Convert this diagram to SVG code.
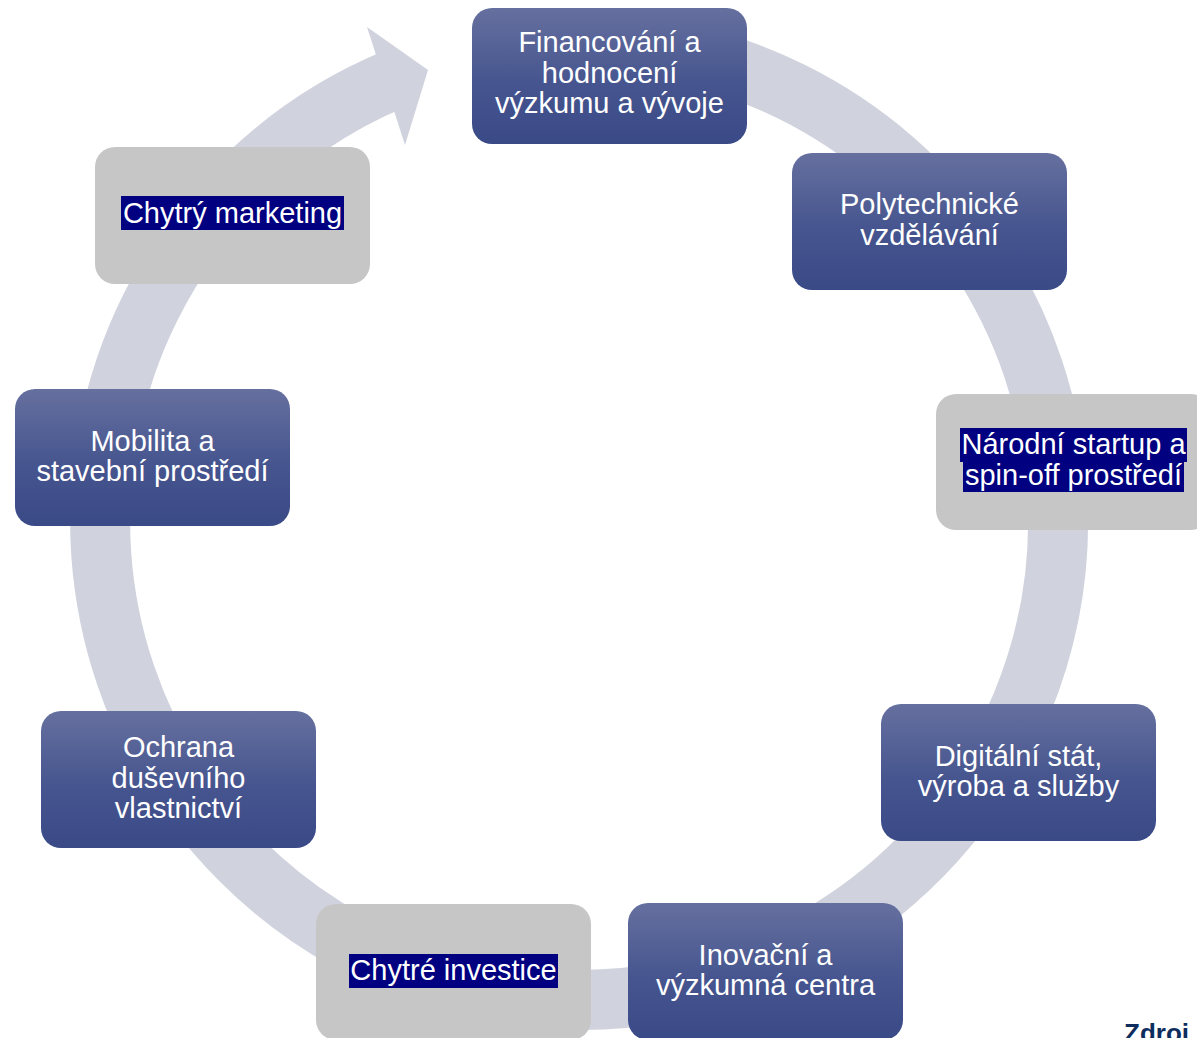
<svg xmlns="http://www.w3.org/2000/svg" width="1197" height="1038" viewBox="0 0 1197 1038">
  <defs>
    <linearGradient id="blueGrad" x1="0" y1="0" x2="0" y2="1">
      <stop offset="0" stop-color="#66709F"/>
      <stop offset="0.55" stop-color="#46558F"/>
      <stop offset="1" stop-color="#3A4A87"/>
    </linearGradient>
  </defs>
  <style>
    .blue { fill: url(#blueGrad); }
    .gray { fill: #C6C6C6; }
    .hl { fill: #000080; }
    .lbl { font-family: "Liberation Sans", Arial, sans-serif; font-size: 29px; fill: #FFFFFF; text-anchor: middle; }
    .ring { fill: none; stroke: #D0D3DE; stroke-width: 60; stroke-linecap: butt; }
    .head { fill: #D0D3DE; }
  </style>
  <rect width="1197" height="1038" fill="#FFFFFF"/>

  <g id="connectors">
    <path class="ring" d="M 579 42 A 479 479 0 1 1 395.7 78.5"/>
    <polygon class="head" points="367,27 428,70 405,145"/>
  </g>

  <g id="node1">
    <rect class="blue" x="472" y="8" width="275" height="136" rx="20"/>
    <text class="lbl" x="609.5" y="52">Financování a</text>
    <text class="lbl" x="609.5" y="82.5">hodnocení</text>
    <text class="lbl" x="609.5" y="113">výzkumu a vývoje</text>
  </g>

  <g id="node2">
    <rect class="blue" x="792" y="153" width="275" height="137" rx="20"/>
    <text class="lbl" x="929.5" y="214">Polytechnické</text>
    <text class="lbl" x="929.5" y="244.5">vzdělávání</text>
  </g>

  <g id="node3">
    <rect class="gray" x="936" y="394" width="275" height="136" rx="20"/>
    <rect class="hl" x="960" y="428" width="227" height="34"/>
    <rect class="hl" x="963" y="459" width="221" height="33"/>
    <text class="lbl" x="1073.5" y="454">Národní startup a</text>
    <text class="lbl" x="1073.5" y="484.5">spin-off prostředí</text>
  </g>

  <g id="node4">
    <rect class="blue" x="881" y="704" width="275" height="137" rx="20"/>
    <text class="lbl" x="1018.5" y="765.5">Digitální stát,</text>
    <text class="lbl" x="1018.5" y="796">výroba a služby</text>
  </g>

  <g id="node5">
    <rect class="blue" x="628" y="903" width="275" height="137" rx="20"/>
    <text class="lbl" x="765.5" y="964.5">Inovační a</text>
    <text class="lbl" x="765.5" y="995">výzkumná centra</text>
  </g>

  <g id="node6">
    <rect class="gray" x="316" y="904" width="275" height="136" rx="20"/>
    <rect class="hl" x="349" y="954" width="209" height="34"/>
    <text class="lbl" x="453.5" y="980">Chytré investice</text>
  </g>

  <g id="node7">
    <rect class="blue" x="41" y="711" width="275" height="137" rx="20"/>
    <text class="lbl" x="178.5" y="757">Ochrana</text>
    <text class="lbl" x="178.5" y="787.5">duševního</text>
    <text class="lbl" x="178.5" y="818">vlastnictví</text>
  </g>

  <g id="node8">
    <rect class="blue" x="15" y="389" width="275" height="137" rx="20"/>
    <text class="lbl" x="152.5" y="450.5">Mobilita a</text>
    <text class="lbl" x="152.5" y="481">stavební prostředí</text>
  </g>

  <g id="node9">
    <rect class="gray" x="95" y="147" width="275" height="137" rx="20"/>
    <rect class="hl" x="121" y="196" width="223" height="34"/>
    <text class="lbl" x="232.5" y="222.5">Chytrý marketing</text>
  </g>

  <text x="1124" y="1042" font-family="'Liberation Sans', Arial, sans-serif" font-size="26" font-weight="bold" fill="#0D2D5E">Zdroj</text>
</svg>
